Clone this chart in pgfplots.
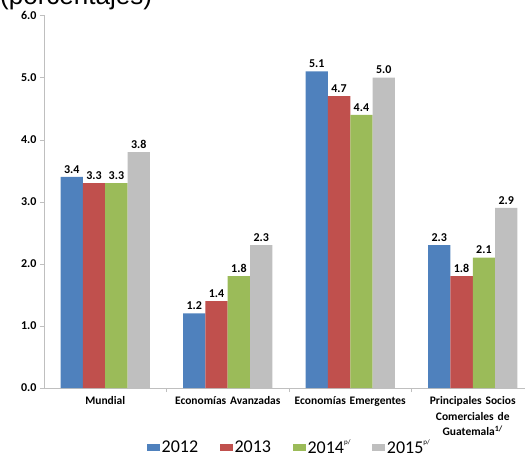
\documentclass[border=0pt]{standalone}
\usepackage{fontspec}
\setmainfont{Carlito}
\newfontfamily\arialfont{Liberation Sans}
\usepackage{pgfplots}
\pgfplotsset{compat=1.18}

\definecolor{c2012}{HTML}{4F81BD}
\definecolor{c2013}{HTML}{C0504D}
\definecolor{c2014}{HTML}{9BBB59}
\definecolor{c2015}{HTML}{BFBFBF}
\definecolor{axisgray}{HTML}{BFBFBF}

\newcommand{\prelim}[1]{\raisebox{1.05ex}{\fontsize{7}{7}\selectfont #1}}

\begin{document}
\begin{tikzpicture}[x=1pt,y=1pt]
\begin{axis}[
    at={(0,0)}, anchor=south west,
    scale only axis,
    width=490pt, height=372.6pt,
    ybar=0pt,
    bar width=22.3pt,
    xmin=-0.5, xmax=3.5,
    ymin=0, ymax=6,
    axis lines*=left,
    axis line style={axisgray},
    xtick={0,1,2,3},
    xticklabels={Mundial, Economías Avanzadas, Economías Emergentes,
      {Principales Socios\\Comerciales de\\Guatemala\textsuperscript{1/}}},
    major x tick style={draw=none},
    minor xtick={0.5,1.5,2.5},
    minor x tick style={axisgray},
    minor tick length=4pt,
    ytick={0,1,...,6},
    y tick style={axisgray},
    major tick length=4pt,
    tick align=outside,
    xticklabel style={font=\fontsize{11.5}{15.5}\selectfont\bfseries,
      align=center, text width=120pt, yshift=-1pt},
    yticklabel style={font=\fontsize{12}{12}\selectfont\bfseries,
      /pgf/number format/.cd, fixed, fixed zerofill, precision=1,
      assume math mode=true},
    nodes near coords,
    every node near coord/.append style={font=\fontsize{12}{12}\selectfont\bfseries,
      /pgf/number format/.cd, fixed, fixed zerofill, precision=1,
      assume math mode=true},
    legend columns=-1,
    legend style={at={(0.501,-0.160)}, anchor=center, draw=none,
      font=\fontsize{18}{18}\selectfont,
      /tikz/every even column/.append style={column sep=20pt},
      nodes={inner xsep=2pt, inner ysep=1pt}},
    legend image code/.code={\fill[#1] (0pt,-0.32em) rectangle (12.5pt,0.36em);},
]
\addplot[fill=c2012, draw=none] coordinates {(0,3.4) (1,1.2) (2,5.1) (3,2.3)};
\addplot[fill=c2013, draw=none] coordinates {(0,3.3) (1,1.4) (2,4.7) (3,1.8)};
\addplot[fill=c2014, draw=none] coordinates {(0,3.3) (1,1.8) (2,4.4) (3,2.1)};
\addplot[fill=c2015, draw=none] coordinates {(0,3.8) (1,2.3) (2,5.0) (3,2.9)};
\legend{2012, 2013, 2014\prelim{p/}, 2015\prelim{p/}}
\end{axis}
\node[anchor=base west, inner sep=0pt, font=\arialfont\fontsize{26}{26}\selectfont]
  at (-44,383) {(porcentajes)};
\pgfresetboundingbox
\useasboundingbox (-44,-70) rectangle (481,388);
\end{tikzpicture}
\end{document}
